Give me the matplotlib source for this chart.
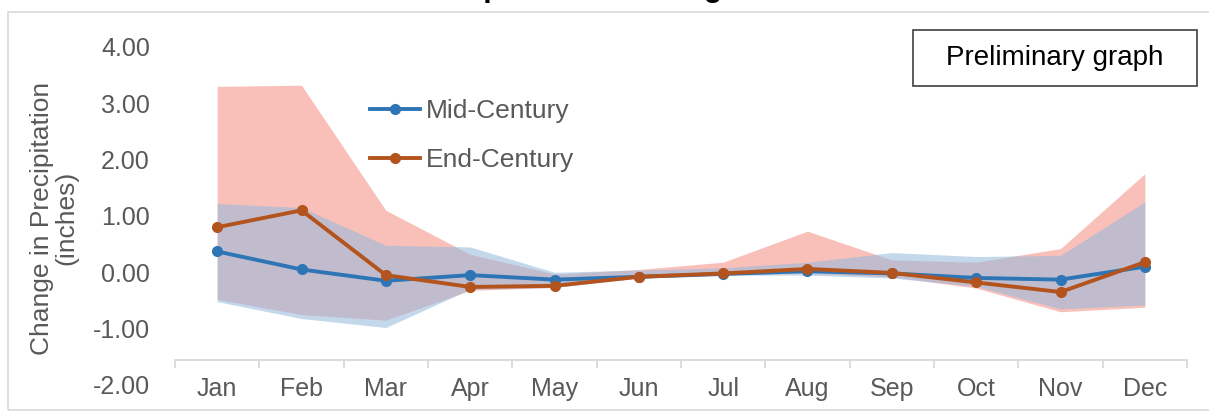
import matplotlib
matplotlib.use('Agg')
import matplotlib.pyplot as plt
from matplotlib.patches import Rectangle
import numpy as np

plt.rcParams['font.family'] = ['Liberation Sans', 'DejaVu Sans']

################################################################################
# Data.                                               #
################################################################################

months = ['Jan', 'Feb', 'Mar', 'Apr', 'May', 'Jun', 'Jul', 'Aug', 'Sep', 'Oct', 'Nov', 'Dec']
mid_century = [0.37, 0.05, -0.15, -0.05, -0.13, -0.08, -0.03, 0.02, -0.02, -0.10, -0.13, 0.10]
end_century = [0.80, 1.10, -0.05, -0.26, -0.24, -0.08, -0.02, 0.06, -0.01, -0.18, -0.35, 0.18]
mid_hi = [1.22, 1.15, 0.48, 0.45, 0.00, 0.04, 0.08, 0.18, 0.35, 0.28, 0.30, 1.25]
mid_lo = [-0.52, -0.82, -0.98, -0.30, -0.27, -0.10, -0.05, -0.05, -0.10, -0.25, -0.65, -0.58]
end_hi = [3.30, 3.32, 1.10, 0.32, -0.03, 0.05, 0.18, 0.73, 0.22, 0.18, 0.42, 1.75]
end_lo = [-0.48, -0.75, -0.85, -0.32, -0.27, -0.08, -0.03, -0.02, -0.08, -0.28, -0.70, -0.62]
yticks = [-2, -1, 0, 1, 2, 3, 4]

################################################################################
# Plot.                                                                        #
################################################################################

W, H = 1209, 412
fig = plt.figure(figsize=(W / 100, H / 100), dpi=100)

# axes: x from 175 to 1187 px, y=-2 at 385 px and 4.3 at ~30 px
ax = fig.add_axes([175 / W, (H - 385) / H, (1187 - 175) / W, (385 - 30) / H])
x = np.arange(len(months))

ax.fill_between(x, end_lo, end_hi, color='#F9C0BA', lw=0, zorder=1)
ax.fill_between(x, mid_lo, mid_hi, color='#94B9DE', alpha=0.55, lw=0, zorder=2)
ax.plot(x, mid_century, '-o', c='#2E75B6', lw=2.8, ms=7, label='Mid-Century', zorder=4)
ax.plot(x, end_century, '-o', c='#B3541E', lw=2.8, ms=7, label='End-Century', zorder=5)

ax.set_xlim(-0.5, 11.5)
ax.set_ylim(-2, 4.3)
ax.set_yticks(yticks)
ax.set_yticklabels(['%.2f' % v for v in yticks])
ax.tick_params(axis='y', length=0, pad=18, labelsize=18, labelcolor='#595959')

# category axis with boundary ticks, sitting at -1.56
ax.set_xticks(np.arange(-0.5, 12, 1.0))
ax.set_xticklabels([])
ax.set_xticks(x, minor=True)
ax.set_xticklabels(months, minor=True)
ax.tick_params(axis='x', which='major', length=6, width=1.3, color='#D9D9D9', direction='out')
ax.tick_params(axis='x', which='minor', length=0, pad=12, labelsize=18, labelcolor='#595959')
ax.spines['bottom'].set_position(('data', -1.56))
ax.spines['bottom'].set_color('#D9D9D9')
ax.spines['bottom'].set_linewidth(1.3)
for s in ['left', 'right', 'top']:
    ax.spines[s].set_visible(False)

fig.text(54 / W, (H - 218) / H, 'Change in Precipitation\n(inches)', rotation=90,
         ha='center', va='center', ma='center', fontsize=19, color='#595959', linespacing=1.05)

ax.legend(loc='upper left', bbox_to_anchor=(370 / W, (H - 99) / H), bbox_transform=fig.transFigure,
          frameon=False, fontsize=19, handlelength=1.9, handletextpad=0.2, borderpad=0,
          borderaxespad=0, labelspacing=0.95, labelcolor='#595959')

# "Preliminary graph" box
fig.text(1055 / W, (H - 58) / H, 'Preliminary graph', ha='center', va='center', fontsize=20,
         color='black')
fig.add_artist(Rectangle((913 / W, (H - 86) / H), (1197 - 913) / W, 56 / H, transform=fig.transFigure,
                         fill=False, ec='#404040', lw=1.2))

# outer chart frame and title cut off by the top edge
fig.add_artist(Rectangle((8 / W, 2 / H), 1.0, (H - 14) / H, transform=fig.transFigure,
                         fill=False, ec='#D9D9D9', lw=1.2))
fig.text(0.5, (H + 4) / H, 'Shaded areas represent the range across models', ha='center',
         va='baseline', fontsize=22, fontweight='bold', color='black')

fig.savefig('out.png', dpi=100)
plt.close()
